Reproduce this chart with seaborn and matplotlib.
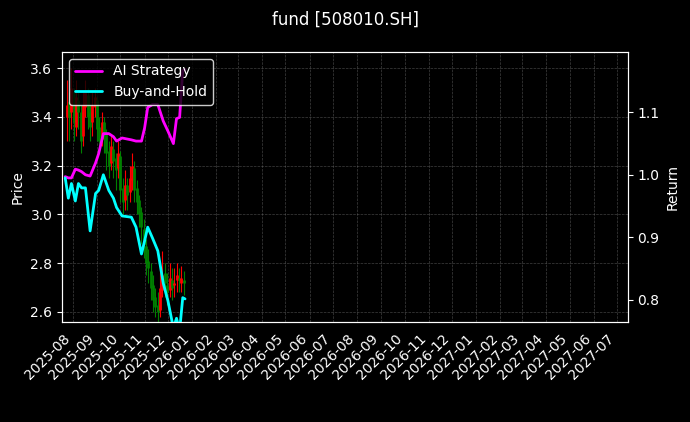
import matplotlib
matplotlib.use("Agg")
import matplotlib.pyplot as plt
import matplotlib.dates as mdates
import matplotlib.ticker as mticker
import seaborn as sns
import pandas as pd
import numpy as np

sns.set_theme(style="dark")
plt.style.use("dark_background")
plt.rcParams.update({"font.size": 10, "xtick.labelsize": 10, "ytick.labelsize": 10,
                     "axes.labelsize": 10, "legend.fontsize": 10, "axes.linewidth": 0.8,
                     "xtick.major.width": 0.8, "ytick.major.width": 0.8,
                     "xtick.major.size": 3.5, "ytick.major.size": 3.5})
plt.rcParams["font.family"] = ["DejaVu Sans"]

# candle data (every ~3 days)
candle_dates = pd.date_range("2025-07-24", "2025-12-22", freq="3D")
close = [3.45,3.40,3.52,3.38,3.48,3.42,3.30,3.45,3.50,3.40,3.36,3.45,3.48,3.35,3.30,3.38,3.32,3.25,3.20,3.28,
         3.22,3.18,3.25,3.10,3.05,3.12,3.08,3.15,3.20,3.10,3.05,3.00,2.95,2.88,2.80,2.78,2.70,2.65,2.62,2.60,
         2.70,2.75,2.72,2.68,2.74,2.70,2.72,2.75,2.73,2.74,2.72]
open_ = [3.40,3.46,3.42,3.50,3.36,3.47,3.42,3.32,3.44,3.49,3.42,3.38,3.44,3.47,3.36,3.31,3.38,3.33,3.26,3.21,
         3.27,3.23,3.19,3.24,3.11,3.06,3.12,3.09,3.14,3.19,3.11,3.06,3.01,2.94,2.87,2.81,2.77,2.71,2.66,2.63,
         2.61,2.69,2.76,2.71,2.69,2.73,2.71,2.73,2.74,2.72,2.73]
high = [3.55,3.50,3.60,3.52,3.55,3.50,3.45,3.50,3.55,3.52,3.45,3.50,3.52,3.48,3.40,3.42,3.40,3.35,3.30,3.32,
        3.30,3.25,3.30,3.26,3.15,3.18,3.15,3.20,3.25,3.22,3.14,3.08,3.03,2.98,2.90,2.86,2.80,2.75,2.70,2.68,
        2.78,2.85,2.80,2.76,2.80,2.78,2.78,2.80,2.78,2.79,2.77]
low = [3.30,3.30,3.35,3.30,3.32,3.35,3.25,3.28,3.40,3.35,3.30,3.32,3.40,3.30,3.25,3.28,3.25,3.18,3.15,3.18,
       3.15,3.10,3.15,3.05,3.00,3.02,3.02,3.05,3.10,3.05,3.00,2.95,2.88,2.82,2.75,2.72,2.65,2.60,2.58,2.56,
       2.58,2.66,2.66,2.63,2.66,2.65,2.66,2.68,2.68,2.68,2.67]

# return series
ret_dates = pd.to_datetime(["2025-07-22","2025-07-26","2025-07-30","2025-08-04","2025-08-08","2025-08-12","2025-08-17",
    "2025-08-23","2025-08-30","2025-09-03","2025-09-09","2025-09-16","2025-09-22","2025-09-26","2025-10-03",
    "2025-10-15","2025-10-21","2025-10-28","2025-11-01","2025-11-05","2025-11-11","2025-11-18","2025-11-25",
    "2025-12-01","2025-12-08","2025-12-12","2025-12-16","2025-12-20","2025-12-23"])
bh = [0.995,0.9625,0.986,0.958,0.986,0.979,0.979,0.91,0.97,0.975,1.0,0.975,0.9625,0.9475,0.934,0.932,0.916,0.873,
      0.894,0.916,0.899,0.878,0.826,0.798,0.754,0.77,0.75,0.803,0.801]
ai = [0.997,0.995,0.995,1.009,1.0075,1.005,1.0,0.998,1.019,1.034,1.066,1.066,1.061,1.054,1.059,1.056,1.054,1.054,
      1.075,1.108,1.1125,1.1125,1.086,1.07,1.05,1.09,1.092,1.167,1.169]

fig = plt.figure(figsize=(6.9, 4.22), dpi=100, facecolor="black")
ax = fig.add_axes([0.09, 0.237, 0.82, 0.64])
ax.set_facecolor("black")
colors = ["red" if c >= o else "green" for o, c in zip(open_, close)]
ax.vlines(candle_dates, low, high, colors=colors, linewidth=0.8)
ax.vlines(candle_dates, np.minimum(open_, close), np.maximum(open_, close), colors=colors, linewidth=2)
ax.set_ylim(2.559, 3.666)
ax.set_xlim(pd.Timestamp("2025-07-18"), pd.Timestamp("2027-07-15"))
ax.set_ylabel("Price", color="white")
ax.xaxis.set_major_locator(mdates.MonthLocator())
ax.xaxis.set_major_formatter(mdates.DateFormatter("%Y-%m"))
plt.setp(ax.get_xticklabels(), rotation=45, ha="right")
ax.grid(True, color="gray", linestyle="--", linewidth=0.5, alpha=0.5)
for s in ax.spines.values():
    s.set_color("white")

ax2 = ax.twinx()
sns.lineplot(x=ret_dates, y=ai, ax=ax2, color="magenta", linewidth=2, label="AI Strategy")
sns.lineplot(x=ret_dates, y=bh, ax=ax2, color="cyan", linewidth=2, label="Buy-and-Hold")
ax2.set_ylim(0.764, 1.197)
ax2.yaxis.set_major_locator(mticker.MultipleLocator(0.1))
ax2.set_ylabel("Return", color="white")
ax2.legend(loc="upper left", facecolor="black", edgecolor="white", labelcolor="white")
ax2.tick_params(colors="white")
ax.tick_params(colors="white")
fig.suptitle("fund [508010.SH]", color="white", y=0.975, fontsize=12)
fig.savefig("out.png", dpi=100, facecolor="black")
